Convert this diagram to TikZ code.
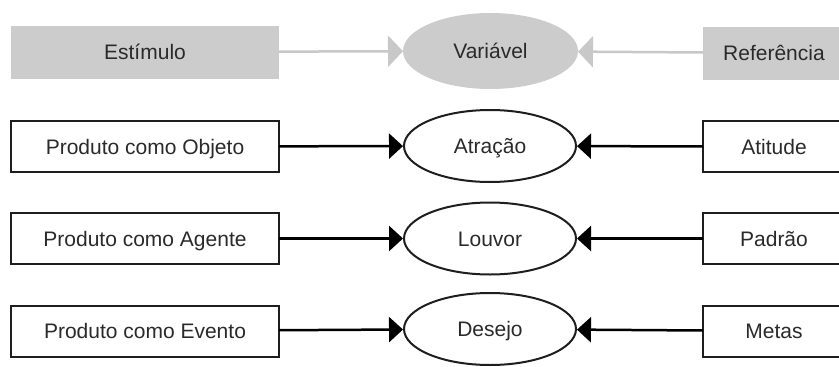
\documentclass[tikz,border=0pt]{standalone}
\usepackage{fontspec}
\setmainfont{Liberation Sans}
\usetikzlibrary{shapes.geometric,arrows.meta}
\definecolor{hdrfill}{HTML}{CCCCCC}
\definecolor{hdrline}{HTML}{C8C8C8}
\definecolor{txt}{HTML}{2A2A2A}
\definecolor{edge}{HTML}{1E1E1E}
\tikzset{
  every node/.style={font=\fontsize{21}{24}\selectfont, text=txt, inner sep=0pt, outer sep=0pt, text height=15pt, text depth=0pt},
  hdrbox/.style={rectangle, fill=hdrfill, minimum width=268, minimum height=53},
  hdrell/.style={ellipse, fill=hdrfill, minimum width=175, minimum height=76},
  lbox/.style={rectangle, draw=edge, line width=2pt, fill=white, minimum width=268, minimum height=51},
  rbox/.style={rectangle, draw=edge, line width=2pt, fill=white, minimum width=142, minimum height=51},
  vell/.style={ellipse, draw=edge, line width=2pt, fill=white, minimum width=172, minimum height=72, outer sep=1pt},
  garrow/.style={draw=hdrline, line width=2.5pt, -{Triangle[length=15pt,width=31pt]}},
  barrow/.style={draw=black, line width=2.5pt, -{Triangle[length=14pt,width=25pt]}}
}
\begin{document}
\begin{tikzpicture}[x=1pt,y=-1pt]
\useasboundingbox (0,0) rectangle (839,367);
\clip (0,0) rectangle (839,367);
% header row
\node[hdrbox] (est) at (145,52) {Estímulo};
\node[hdrell] (var) at (490.5,51) {Variável};
\node[hdrbox, minimum width=142] (ref) at (774,53) {Referência};
\draw[garrow] (est) -- (var);
\draw[garrow] (ref) -- (var);
% rows
\node[lbox] (s1) at (145,146.5) {Produto como Objeto};
\node[vell] (v1) at (490,146) {Atração};
\node[rbox] (r1) at (774,146.5) {Atitude};
\node[lbox] (s2) at (145,238.5) {Produto como Agente};
\node[vell] (v2) at (490,238.5) {Louvor};
\node[rbox] (r2) at (774,238.5) {Padrão};
\node[lbox] (s3) at (145,331) {Produto como Evento};
\node[vell] (v3) at (490,329) {Desejo};
\node[rbox] (r3) at (774,331) {Metas};
\draw[barrow] (s1) -- (v1);
\draw[barrow] (r1) -- (v1);
\draw[barrow] (s2) -- (v2);
\draw[barrow] (r2) -- (v2);
\draw[barrow] (s3) -- (v3);
\draw[barrow] (r3) -- (v3);
\end{tikzpicture}
\end{document}
